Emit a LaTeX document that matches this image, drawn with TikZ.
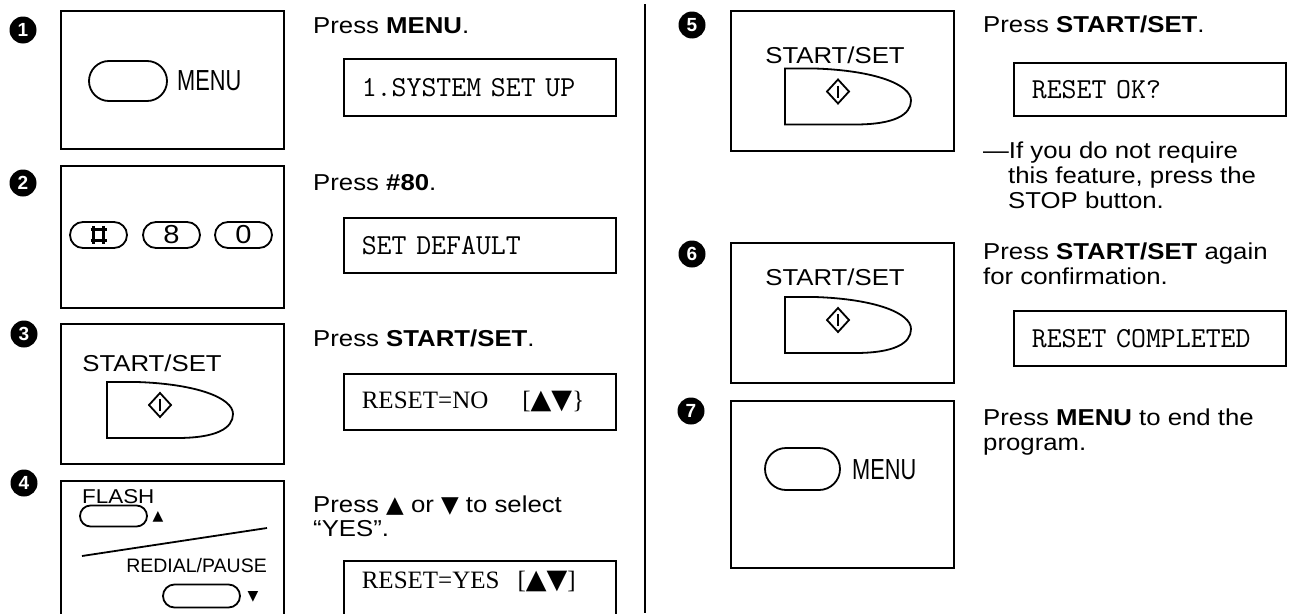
\documentclass[tikz,border=0pt]{standalone}
\usepackage{fontspec}
\setmainfont{Liberation Sans}[FakeStretch=1.12]
\newfontfamily\keyfont{Liberation Sans}
\newfontfamily\narrowfont{Liberation Sans}[FakeStretch=0.75]
\newfontfamily\lcdserif{Liberation Serif}
\newfontfamily\symfont{DejaVu Sans}
\usetikzlibrary{positioning}

\newcommand{\triup}{{\symfont ▲}}
\newcommand{\tridown}{{\symfont ▼}}

\tikzset{
  startkey/.pic={
    \draw[keyline] (0,-28) -- (30,-28) .. controls (90,-26) and (126,-12) .. (126,4)
      .. controls (126,18) and (110,28) .. (70,28) -- (0,28) -- cycle;
    \draw[keyline] (53,-17) -- (64,-5) -- (53,7) -- (42,-5) -- cycle;
    \draw[keyline] (53,-11) -- (53,1);
  },
  hashmark/.pic={
    \draw[line width=2.2pt] (-5,-9) -- (-5,9) (5,-9) -- (5,9)
      (-8,-5.5) -- (8,-5.5) (-8,5.5) -- (8,5.5);
  }
}

\begin{document}
\begin{tikzpicture}[x=1pt, y=-1pt,
  panel/.style={draw, line width=1.8pt, minimum width=223pt, anchor=north west, inner sep=0pt},
  lcd/.style={draw, line width=1.6pt, minimum width=272pt, minimum height=56pt, text width=236pt,
    inner xsep=18pt, align=left, anchor=north west, font=\ttfamily\fontsize{29}{29}\selectfont},
  badge/.style={circle, fill=black, text=white, minimum size=27pt, inner sep=0pt,
    font=\keyfont\bfseries\fontsize{19}{19}\selectfont},
  txt/.style={anchor=base west, inner sep=0pt, font=\fontsize{23}{28}\selectfont},
  keyline/.style={line width=1.8pt},
  oval/.style={draw, line width=1.8pt, rounded corners=#1, inner sep=0pt},
  menulbl/.style={anchor=west, inner sep=0pt, font=\narrowfont\fontsize{29}{29}\selectfont},
  keylbl/.style={inner sep=0pt, font=\fontsize{23}{23}\selectfont}]

\useasboundingbox (0,0) rectangle (1289,613);
\clip (0,0) rectangle (1289,613);

% panels
\node[panel, minimum height=138pt] (step1) at (60,10) {};
\node[panel, minimum height=142pt] (step2) at (60,165) {};
\node[panel, minimum height=140pt] (step3) at (60,323) {};
\node[panel, minimum height=160pt] (step4) at (60,480) {};
\node[panel, minimum height=140pt] (step5) at (730,10) {};
\node[panel, minimum height=140pt] (step6) at (730,242) {};
\node[panel, minimum height=167pt] (step7) at (730,400) {};

% step numbers
\node[badge] (num1) at (23,30) {1};
\node[badge] (num2) at (23,183) {2};
\node[badge] (num3) at (24,334) {3};
\node[badge] (num4) at (24,483) {4};
\node[badge] (num5) at (692,25) {5};
\node[badge] (num6) at (692,254) {6};
\node[badge] (num7) at (691,411) {7};

% divider
\coordinate (divtop) at (645,4);
\coordinate (divbot) at (645,613);
\draw[line width=1.8pt] (divtop) -- (divbot);

% step 1
\node[oval=20pt, minimum width=78pt, minimum height=40pt] (menuA) at (128,81) {};
\node[menulbl] (menuAlbl) at (177,81) {MENU};

% step 2
\node[oval=13pt, minimum width=57pt, minimum height=26pt] (keyHash) at (98.5,235) {};
\node[oval=13pt, minimum width=57pt, minimum height=26pt] (keyEight) at (171.5,235) {};
\node[oval=13pt, minimum width=57pt, minimum height=26pt] (keyZero) at (243.5,235) {};
\pic at (keyHash.center) {hashmark};
\node[inner sep=0pt, font=\fontsize{26}{26}\selectfont] (eightlbl) at (keyEight) {8};
\node[inner sep=0pt, font=\fontsize{26}{26}\selectfont] (zerolbl) at (keyZero) {0};

% step 3
\node[keylbl] (startlblA) at (152,363) {START/SET};
\pic at (107,410) {startkey};

% step 4
\node[anchor=base west, inner sep=0pt, font=\fontsize{20}{20}\selectfont] (flashlbl) at (82,503) {FLASH};
\node[oval=10.5pt, minimum width=67pt, minimum height=21pt] (flashkey) at (113.5,516) {};
\node[inner sep=0pt, font=\fontsize{14}{14}\selectfont] (flashup) at (158,517) {\triup};
\coordinate (slashL) at (82,556);
\coordinate (slashR) at (267,528);
\draw[keyline] (slashL) -- (slashR);
\node[anchor=base east, inner sep=0pt, font=\keyfont\fontsize{19.5}{19.5}\selectfont] (redial) at (267,572) {REDIAL/PAUSE};
\node[oval=11.5pt, minimum width=77pt, minimum height=23pt] (redialkey) at (201.5,596) {};
\node[inner sep=0pt, font=\fontsize{14}{14}\selectfont] (redialdown) at (253,597) {\tridown};

% step 5
\node[keylbl] (startlblB) at (835,55) {START/SET};
\pic at (785,96.5) {startkey};

% step 6
\node[keylbl] (startlblC) at (835,277) {START/SET};
\pic at (785,325) {startkey};

% step 7
\node[oval=21pt, minimum width=75pt, minimum height=42pt] (menuB) at (802.5,469) {};
\node[menulbl] (menuBlbl) at (852,470) {MENU};

% instructions, left
\node[txt] (say1) at (313,33) {Press \textbf{MENU}.};
\node[lcd, minimum height=57pt] (lcd1) at (343,58) {1.SYSTEM SET UP};
\node[txt] (say2) at (313,190) {Press \textbf{\#80}.};
\node[lcd, minimum height=55pt] (lcd2) at (343,217) {SET DEFAULT};
\node[txt] (say3) at (313,346) {Press \textbf{START/SET}.};
\node[lcd] (lcd3) at (343,373) {\lcdserif\fontsize{25}{25}\selectfont RESET=NO\hspace{34pt}[{\fontsize{27}{27}\selectfont\triup\tridown}\}};
\node[txt] (say4a) at (313,512) {Press \triup\ or \tridown\ to select};
\node[txt] (say4b) at (313,536) {“YES”.};
\node[lcd, minimum height=0pt, inner ysep=0pt, text height=28pt, text depth=60pt] (lcd4) at (343,560)
  {\lcdserif\fontsize{25}{25}\selectfont RESET=YES\hspace{18pt}[{\fontsize{27}{27}\selectfont\triup\tridown}]};

% instructions, right
\node[txt] (say5) at (983,32) {Press \textbf{START/SET}.};
\node[lcd, minimum height=53pt] (lcd5) at (1013,62) {RESET OK?};
\node[txt] (note5a) at (983,158) {—If you do not require};
\node[txt] (note5b) at (1008,183) {this feature, press the};
\node[txt] (note5c) at (1008,208) {STOP button.};
\node[txt] (say6a) at (983,259) {Press \textbf{START/SET} again};
\node[txt] (say6b) at (983,284) {for confirmation.};
\node[lcd, minimum height=55pt] (lcd6) at (1013,310) {RESET COMPLETED};
\node[txt] (say7a) at (983,425) {Press \textbf{MENU} to end the};
\node[txt] (say7b) at (983,450) {program.};
\end{tikzpicture}
\end{document}
